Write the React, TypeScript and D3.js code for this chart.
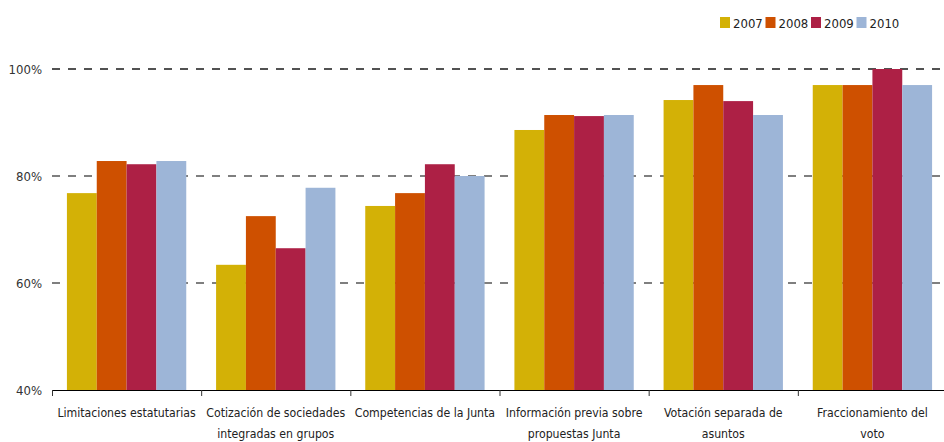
import React from "react";
import * as d3 from "d3";

const categories = [
  ["Limitaciones estatutarias"],
  ["Cotización de sociedades", "integradas en grupos"],
  ["Competencias de la Junta"],
  ["Información previa sobre", "propuestas Junta"],
  ["Votación separada de", "asuntos"],
  ["Fraccionamiento del", "voto"],
];
const years = ["2007", "2008", "2009", "2010"];
const colors = ["#D3B106", "#CE5000", "#AD2045", "#9DB5D7"];
const v2007 = [76.8, 63.4, 74.4, 88.6, 94.2, 97.0];
const v2008 = [82.8, 72.5, 76.8, 91.4, 97.0, 97.0];
const v2009 = [82.2, 66.5, 82.2, 91.2, 94.0, 100.0];
const v2010 = [82.8, 77.8, 80.0, 91.4, 91.4, 97.0];
const series = [v2007, v2008, v2009, v2010];
const yTicks = [40, 60, 80, 100];

const W = 944;
const H = 442;
const left = 52;
const right = 947;
const top = 69;
const bottom = 390;
const font = "'DejaVu Sans Condensed', 'Open Sans', sans-serif";

export default function App() {
  const keys = categories.map((c) => c.join(" "));
  const x = d3.scaleBand<string>().domain(keys).range([left, right]).paddingInner(0.2).paddingOuter(0.1);
  const xi = d3.scaleBand<string>().domain(years).range([0, x.bandwidth()]);
  const y = d3.scaleLinear().domain([40, 100]).range([bottom, top]);
  const step = x.step();

  return (
    <svg width={W} height={H} style={{ position: "absolute", left: 0, top: 0, background: "#fff" }}>
      {yTicks.filter((t) => t > 40).map((t) => (
        <line key={t} x1={left} x2={W} y1={y(t)} y2={y(t)}
          stroke={t === 100 ? "#1a1a1a" : "#7f7f7f"} strokeWidth={t === 100 ? 1.3 : 2}
          strokeDasharray="8,8" />
      ))}
      {keys.map((k, ci) => (
        <g key={k} transform={`translate(${x(k)},0)`}>
          {years.map((yr, si) => (
            <rect key={yr} x={xi(yr)} width={xi.bandwidth()} y={y(series[si][ci])}
              height={bottom - y(series[si][ci])} fill={colors[si]} />
          ))}
        </g>
      ))}
      <line x1={left} x2={W} y1={bottom + 0.5} y2={bottom + 0.5} stroke="#000" strokeWidth={1} />
      {d3.range(keys.length + 1).map((i) => (
        <line key={i} x1={left + i * step + 0.5} x2={left + i * step + 0.5} y1={bottom} y2={bottom + 6} stroke="#333" strokeWidth={1} />
      ))}
      {yTicks.map((t) => (
        <text key={t} x={42} y={y(t) + 5} textAnchor="end" fontFamily={font} fontSize={13} fill="#333">{t}%</text>
      ))}
      {categories.map((lines, ci) => (
        <text key={ci} textAnchor="middle" fontFamily={font} fontSize={12.2} fill="#222">
          {lines.map((ln, li) => (
            <tspan key={li} x={(x(keys[ci]) as number) + x.bandwidth() / 2} y={417 + li * 21}>{ln}</tspan>
          ))}
        </text>
      ))}
      {years.map((yr, i) => {
        const lx = 720 + i * 45.5;
        return (
          <g key={yr}>
            <rect x={lx} y={17} width={10} height={11} fill={colors[i]} />
            <text x={lx + 13} y={28} fontFamily={font} fontSize={13} fill="#222">{yr}</text>
          </g>
        );
      })}
    </svg>
  );
}
